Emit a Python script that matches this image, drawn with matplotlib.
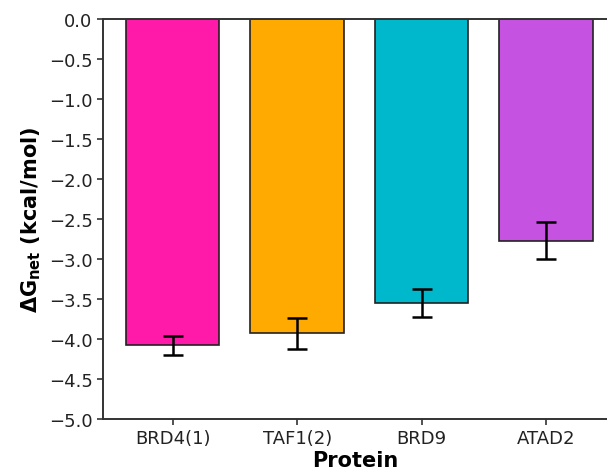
import numpy as np
import matplotlib
matplotlib.use('Agg')
import matplotlib.pyplot as plt

proteins = ['BRD4(1)', 'TAF1(2)', 'BRD9', 'ATAD2']
dg_net = [-4.08, -3.93, -3.55, -2.77]
dg_err = [0.12, 0.19, 0.17, 0.23]
colors = ['#FF1AAA', '#FFAA00', '#00B8CC', '#C552E0']

fig = plt.figure(figsize=(6.07, 4.77), dpi=100)
ax = fig.add_axes([0.1697, 0.1195, 0.8303, 0.8385])

x = np.arange(len(proteins))
ax.bar(x, dg_net, width=0.75, color=colors, edgecolor='#222222', linewidth=1.2,
       yerr=dg_err, capsize=7.5, error_kw=dict(elinewidth=1.8, capthick=1.8, ecolor='black'))

ax.set_xlim(-0.56, 3.49)
ax.set_ylim(-5.0, 0.0)
ax.set_yticks(np.arange(-5.0, 0.01, 0.5))
ax.set_xticks(x)
ax.set_xticklabels(proteins, fontsize=13)
ax.tick_params(axis='y', labelsize=13)
ax.tick_params(length=4, width=1.2, colors='#333333', labelcolor='#222222')
for s in ax.spines.values():
    s.set_linewidth(1.4)
    s.set_color('#333333')
ax.spines['right'].set_visible(False)

ax.set_xlabel('Protein', fontsize=15, fontweight='bold', labelpad=2)
ax.set_ylabel(r'$\mathbf{\Delta G_{net}}$ (kcal/mol)', fontsize=15, fontweight='bold')

fig.savefig('out.png', dpi=100)
